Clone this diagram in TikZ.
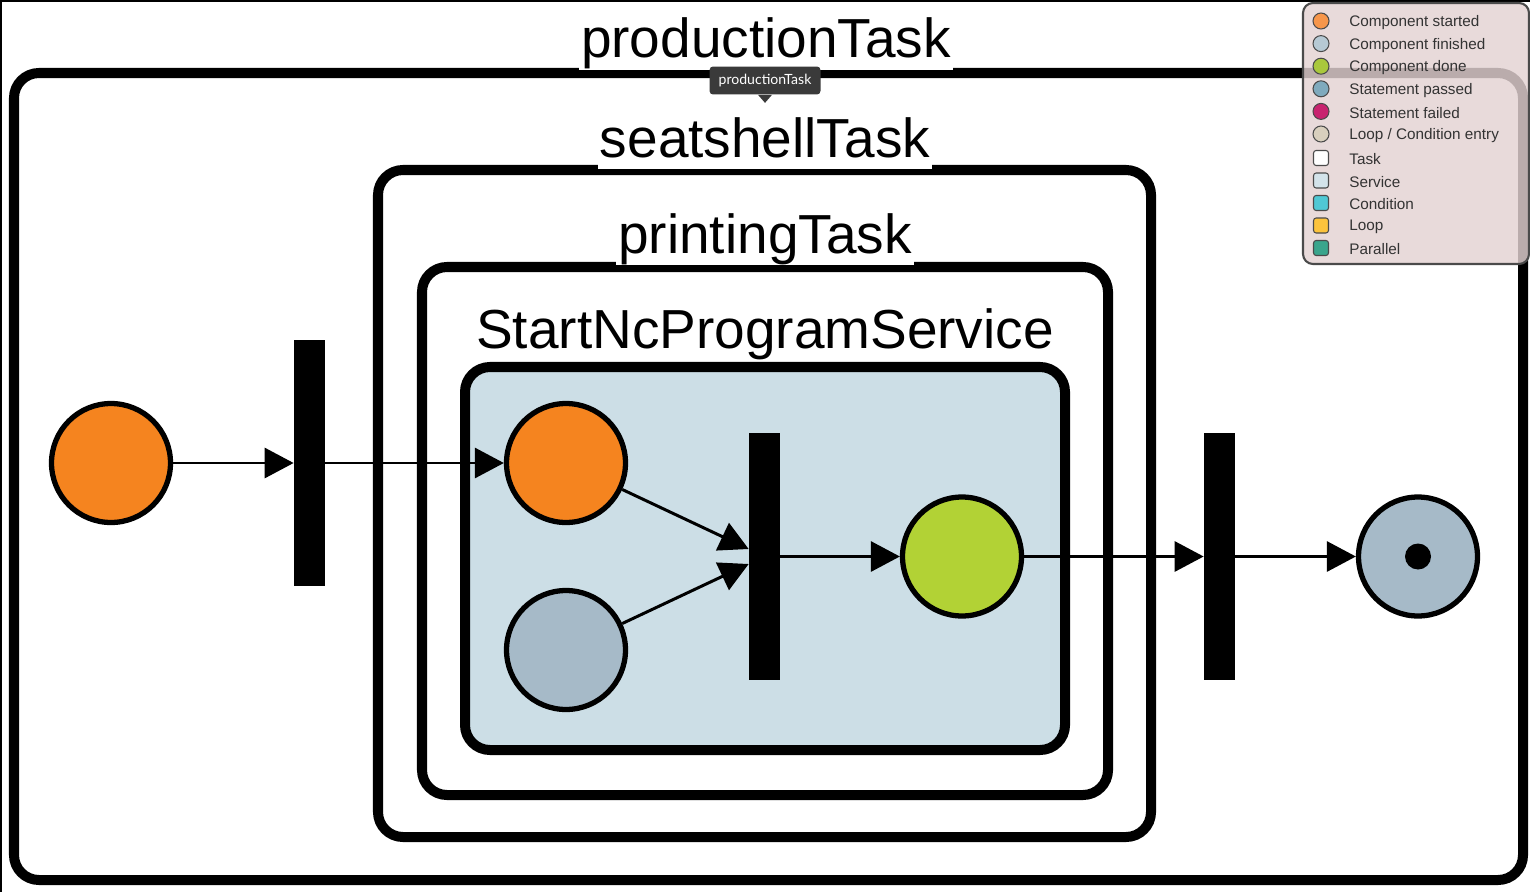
\documentclass[tikz,border=0pt]{standalone}
\usepackage{fontspec}
\setmainfont{Liberation Sans}
\newfontfamily\tipfont{Lato}
\usetikzlibrary{arrows.meta,calc}
\definecolor{Started}{HTML}{F5841F}
\definecolor{Finished}{HTML}{A6BAC8}
\definecolor{Done}{HTML}{B2D235}
\definecolor{ServiceBg}{HTML}{CCDEE6}
\definecolor{LegendBg}{HTML}{E3D2D2}
\definecolor{LegendLine}{HTML}{4A4A4A}
\definecolor{LegText}{HTML}{333333}
\definecolor{TipBg}{HTML}{3A3A3A}
\definecolor{LgStarted}{HTML}{F7964A}
\definecolor{LgFinished}{HTML}{B6C9D4}
\definecolor{LgDone}{HTML}{A9C83C}
\definecolor{LgPassed}{HTML}{7FAABD}
\definecolor{LgFailed}{HTML}{C8236F}
\definecolor{LgEntry}{HTML}{D8CFBD}
\definecolor{LgTask}{HTML}{FFFFFF}
\definecolor{LgService}{HTML}{D3E3EA}
\definecolor{LgCondition}{HTML}{50C8D4}
\definecolor{LgLoop}{HTML}{FCC33C}
\definecolor{LgParallel}{HTML}{3AA58C}

\begin{document}
\begin{tikzpicture}[x=0.02cm,y=-0.02cm,
    frame/.style={line width=5.7pt,rounded corners=0.5cm},
    title/.style={fill=white,inner xsep=0.04cm,inner ysep=0pt,anchor=base,
      text depth=0.24cm,font=\fontsize{31.3}{37}\selectfont},
    circ/.style={circle,draw=black,line width=3pt,minimum size=2.38cm,inner sep=0pt},
    bar/.style={fill=black,minimum width=0.62cm,minimum height=4.94cm,inner sep=0pt},
    arr/.style={-{Triangle[length=0.58cm,width=0.6cm]},line width=1.7pt},
    tip/.style={fill=TipBg,text=white,rounded corners=2pt,minimum width=2.22cm,
      minimum height=0.56cm,inner sep=0pt,font=\tipfont\fontsize{8}{9}\selectfont},
    legdot/.style={circle,draw=LegendLine,line width=0.6pt,minimum size=0.32cm,inner sep=0pt},
    legbox/.style={draw=LegendLine,line width=0.6pt,rounded corners=1.5pt,minimum size=0.3cm,inner sep=0pt},
    legtext/.style={anchor=west,inner sep=0pt,text=LegText,font=\fontsize{8.7}{10}\selectfont}
  ]
    \useasboundingbox (0,0) rectangle (1530,892);
    \draw[line width=2pt] (0,892) -- (0,0) -- (1530,0);
    % nested containers
    \draw[frame] (14,73) rectangle (1523,880);
    \draw[frame] (378,170) rectangle (1151,837);
    \draw[frame] (422,267) rectangle (1108,795);
    \draw[frame,fill=ServiceBg] (465,367) rectangle (1065,750);
    \node[title] (prodTitle) at (766,58) {productionTask};
    \node[title] (seatTitle) at (765,157) {seatshellTask};
    \node[title] (printTitle) at (765,253) {printingTask};
    \node[title] (svcTitle) at (765,348) {StartNcProgramService};
    \node[tip] (tooltip) at (765,80.5) {productionTask};
    \fill[TipBg] ($(tooltip.south)+(-7,0)$) -- ($(tooltip.south)+(7,0)$) -- ($(tooltip.south)+(0,8)$) -- cycle;
    % flow
    \node[circ,fill=Started] (startEvt) at (111,463) {};
    \node[bar] (forkIn) at (309.5,463) {};
    \node[circ,fill=Started] (svcStart) at (566,463) {};
    \node[circ,fill=Finished] (svcFinished) at (566,650) {};
    \node[bar] (joinSvc) at (764.5,556.5) {};
    \node[circ,fill=Done] (svcDone) at (962,556.5) {};
    \node[bar] (joinOut) at (1219.5,556.5) {};
    \node[circ,fill=Finished] (endEvt) at (1418,556.5) {};
    \node[circle,fill=black,minimum size=0.52cm,inner sep=0pt] (endDot) at (endEvt.center) {};
    \foreach \a/\b in {startEvt/forkIn,forkIn/svcStart,joinSvc/svcDone,svcDone/joinOut,joinOut/endEvt}
      \draw[arr] (\a) -- (\b);
    \draw[arr] (svcStart) -- ([yshift=0.15cm]joinSvc.west);
    \draw[arr] (svcFinished) -- ([yshift=-0.15cm]joinSvc.west);
    % legend
    \draw[draw=LegendLine,line width=1.2pt,fill=LegendBg,fill opacity=0.82,rounded corners=0.2cm]
      (1303,3) rectangle (1529,264);
    \foreach \c/\t [count=\i] in {LgStarted/Component started,LgFinished/Component finished,
        LgDone/Component done,LgPassed/Statement passed,LgFailed/Statement failed,
        LgEntry/{Loop / Condition entry}}{
      \node[legdot,fill=\c] (legDot\i) at (1321,{21+22.6*(\i-1)}) {};
      \node[legtext] (legDotText\i) at (1349,{22.5+22.6*(\i-1)}) {\t};
    }
    \foreach \c/\t [count=\i] in {LgTask/Task,LgService/Service,LgCondition/Condition,
        LgLoop/Loop,LgParallel/Parallel}{
      \node[legbox,fill=\c] (legBox\i) at (1321,{158+22.5*(\i-1)}) {};
      \node[legtext] (legBoxText\i) at (1349,{159.5+22.5*(\i-1)}) {\t};
    }
\end{tikzpicture}
\end{document}
